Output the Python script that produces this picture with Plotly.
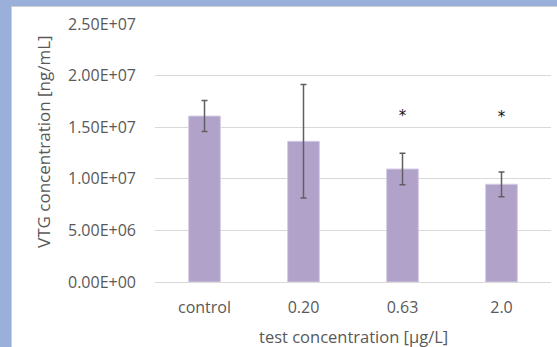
import plotly.graph_objects as go

categories = ["control", "0.20", "0.63", "2.0"]
means = [1.608e7, 1.363e7, 1.095e7, 9.47e6]
errors = [1.50e6, 5.50e6, 1.53e6, 1.20e6]
significance = ["", "", "*", "*"]
star_level = [1.60e7, 1.60e7, 1.60e7, 1.59e7]
y_ticks = [0, 5e6, 1e7, 1.5e7, 2e7, 2.5e7]
y_tick_labels = ["0.00E+00", "5.00E+06", "1.00E+07", "1.50E+07", "2.00E+07", "2.50E+07"]

W, H = 557, 347
L, R, T, B = 155, 6, 24, 65
pw, ph = W - L - R, H - T - B

def px(x):
    return (x - L) / pw

def py(y):
    return (H - B - y) / ph

font = "Open Sans, Liberation Sans, sans-serif"
grey = "#595959"

fig = go.Figure()
fig.add_trace(go.Bar(
    x=categories, y=means, width=0.32,
    marker=dict(color="#b0a2c9", line=dict(color="#d4cbe4", width=1)),
    error_y=dict(type="data", array=errors, visible=True, color="#606060", thickness=1.5, width=3),
))
fig.add_trace(go.Scatter(
    x=categories, y=star_level, mode="text", text=significance,
    textfont=dict(family="DejaVu Sans", size=15, color="#111111"),
    textposition="middle center", hoverinfo="skip",
))

fig.add_shape(type="rect", xref="paper", yref="paper",
              x0=px(11.5), x1=px(W + 5), y0=py(H + 5), y1=py(6.5),
              fillcolor="white", line=dict(color="#d0d0d0", width=1), layer="below")

fig.add_annotation(text="VTG concentration [ng/mL]", xref="paper", yref="paper",
                   x=px(43), y=py(142), textangle=-90, showarrow=False,
                   font=dict(family=font, size=17, color=grey),
                   xanchor="center", yanchor="middle")
fig.add_annotation(text="test concentration [µg/L]", xref="paper", yref="paper",
                   x=0.5, y=py(336), showarrow=False,
                   font=dict(family=font, size=16.5, color=grey),
                   xanchor="center", yanchor="middle")

fig.update_layout(
    width=W, height=H,
    margin=dict(l=L, r=R, t=T, b=B, pad=0),
    paper_bgcolor="#9aafd9", plot_bgcolor="white",
    showlegend=False,
    font=dict(family=font, size=16, color=grey),
    bargap=0.68,
)
fig.update_xaxes(showgrid=False, zeroline=False, showline=False, ticks="",
                 ticklabelstandoff=14, tickfont=dict(size=16, color=grey),
                 range=[-0.5, 3.5])
fig.update_yaxes(range=[0, 2.5e7], tickvals=y_ticks, ticktext=y_tick_labels,
                 showgrid=True, gridcolor="#d9d9d9", gridwidth=1.3,
                 zeroline=True, zerolinecolor="#d9d9d9", zerolinewidth=1.3,
                 showline=False, ticks="", ticklabelstandoff=18,
                 tickfont=dict(size=16, color=grey))

fig.write_html("out.html", config={"displayModeBar": False},
               post_script="document.body.style.margin='0';document.body.style.overflow='hidden';")
